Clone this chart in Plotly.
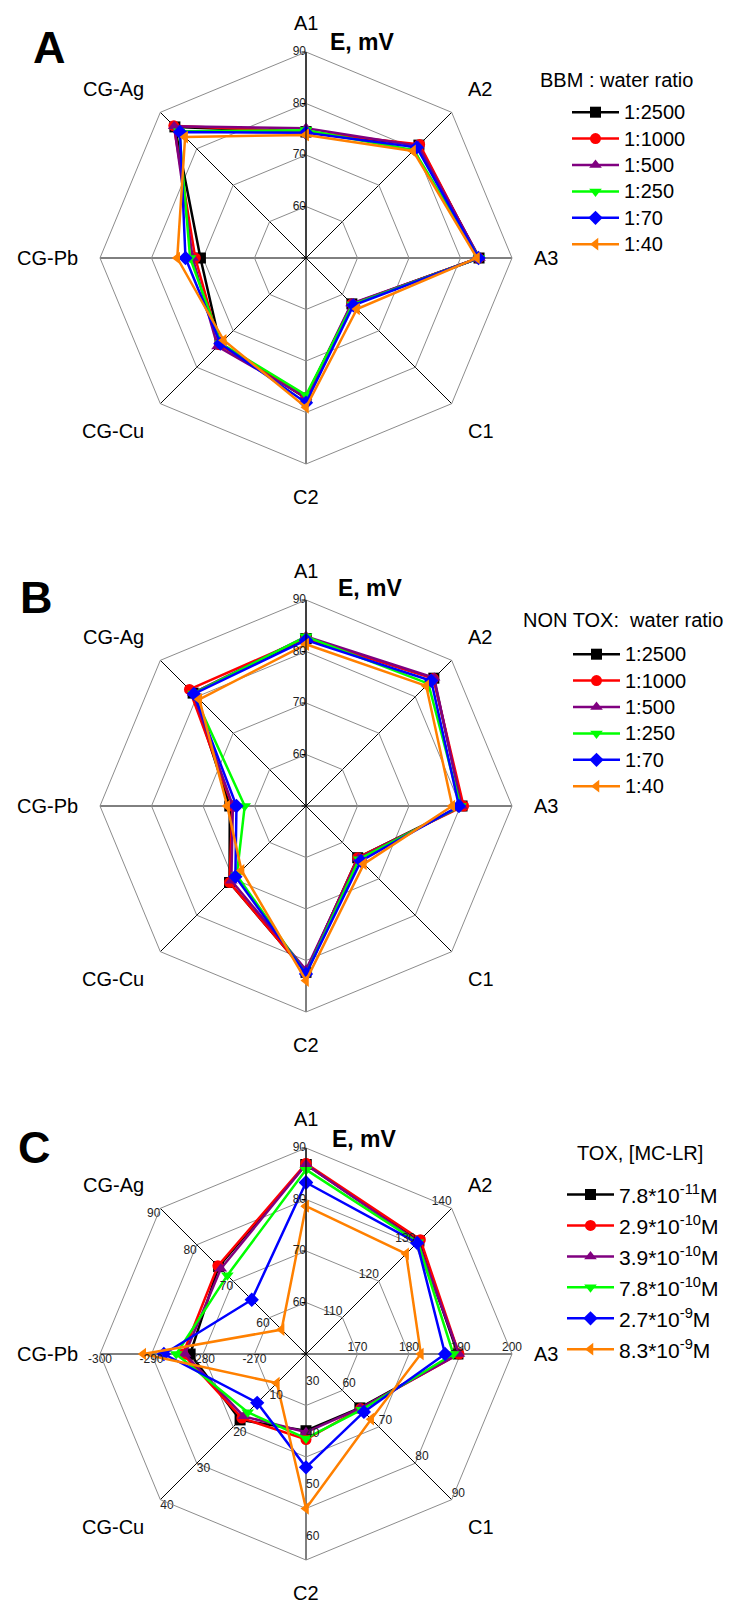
import math
import plotly.graph_objects as go

FONT = "Liberation Sans, Arial, sans-serif"

# ---------------- data ----------------
axes = ["A1", "A2", "A3", "C1", "C2", "CG-Cu", "CG-Pb", "CG-Ag"]

colors = ["#000000", "#ff0000", "#800080", "#00ff00", "#0000ff", "#ff8000"]
symbols = ["square", "circle", "triangle-up", "triangle-down", "diamond", "triangle-left"]

# Panel A : BBM : water ratio   (order of axes as above)
names_a = ["1:2500", "1:1000", "1:500", "1:250", "1:70", "1:40"]
a_2500 = [74.5, 81.0, 83.6, 62.6, 77.2, 73.6, 70.5, 86.0]
a_1000 = [74.5, 81.2, 83.5, 62.6, 77.1, 73.8, 71.5, 86.3]
a_500 = [75.2, 80.8, 83.7, 62.5, 77.0, 74.3, 72.0, 86.2]
a_250 = [74.8, 79.6, 83.6, 62.8, 76.6, 73.4, 72.5, 84.8]
a_70 = [74.3, 80.4, 83.5, 63.0, 78.1, 73.5, 73.4, 84.6]
a_40 = [73.9, 79.4, 83.2, 64.0, 79.0, 72.6, 75.0, 83.2]

# Panel B : NON TOX : water ratio
names_b = ["1:2500", "1:1000", "1:500", "1:250", "1:70", "1:40"]
b_2500 = [82.5, 85.1, 80.3, 64.2, 82.3, 71.0, 64.8, 81.0]
b_1000 = [82.6, 85.0, 80.6, 64.2, 82.3, 71.0, 64.3, 82.0]
b_500 = [82.9, 85.2, 80.2, 64.4, 81.8, 70.5, 64.2, 81.0]
b_250 = [82.9, 83.6, 80.0, 64.6, 82.6, 69.0, 61.9, 80.9]
b_70 = [82.2, 84.4, 79.7, 65.1, 82.6, 69.4, 63.5, 80.8]
b_40 = [81.4, 83.0, 78.4, 65.9, 83.9, 67.7, 65.3, 79.3]

# Panel C : TOX, [MC-LR]  (each axis has its own scale)
names_c = ["7.8*10<sup>-11</sup>M", "2.9*10<sup>-10</sup>M", "3.9*10<sup>-10</sup>M",
           "7.8*10<sup>-10</sup>M", "2.7*10<sup>-9</sup>M", "8.3*10<sup>-9</sup>M"]
c_78e11 = [86.8, 131.0, 189.5, 64.8, 34.9, 18.1, -282.5, 74.0]
c_29e10 = [87.0, 131.4, 189.7, 65.0, 36.6, 17.6, -283.9, 74.2]
c_39e10 = [86.8, 130.8, 189.7, 64.9, 35.2, 17.1, -283.5, 73.4]
c_78e10 = [85.8, 130.7, 188.6, 65.3, 36.4, 16.0, -285.2, 71.6]
c_27e9 = [83.3, 130.5, 187.0, 65.9, 42.0, 13.4, -287.6, 64.9]
c_83e9 = [78.7, 127.5, 182.3, 67.9, 50.0, 8.0, -291.6, 56.7]

# per-axis scale of panel C (value at centre, value at outer ring)
c_lo = [50, 100, 160, 50, 20, 0, -260, 50]
c_hi = [90, 140, 200, 90, 60, 40, -300, 90]
ab_ticks = [50, 60, 70, 80, 90]

series_a = [a_2500, a_1000, a_500, a_250, a_70, a_40]
series_b = [b_2500, b_1000, b_500, b_250, b_70, b_40]
series_c = [c_78e11, c_29e10, c_39e10, c_78e10, c_27e9, c_83e9]

fig = go.Figure()


def close(lst):
    return list(lst) + [lst[0]]


def add_series(polar, legend, names, series, label_px):
    for i, (nm, vals) in enumerate(zip(names, series)):
        fig.add_trace(go.Scatterpolar(
            r=close(vals), theta=close(axes), mode="lines+markers",
            name="<span style='font-size:%gpx'>%s</span>" % (label_px, nm),
            subplot=polar, legend=legend,
            line=dict(color=colors[i], width=2.5),
            marker=dict(color=colors[i], symbol=symbols[i], size=11),
        ))


add_series("polar", "legend", names_a, series_a, 20)
add_series("polar2", "legend2", names_b, series_b, 20)

# panel C: normalise each axis to 0..1
norm_c = []
for vals in series_c:
    norm_c.append([(v - lo) / (hi - lo) for v, lo, hi in zip(vals, c_lo, c_hi)])
add_series("polar3", "legend3", names_c, norm_c, 21)


def tick_text(polar, ax, rr, labels, pos):
    fig.add_trace(go.Scatterpolar(
        r=rr, theta=[ax] * len(rr), mode="text", text=labels, textposition=pos,
        textfont=dict(size=12, color="#222222", family=FONT),
        cliponaxis=False, showlegend=False, hoverinfo="skip", subplot=polar,
    ))


# A1 scale labels of panels A and B
for polar in ["polar", "polar2"]:
    tick_text(polar, "A1", ab_ticks, [str(v) for v in ab_ticks], "middle left")

# per-axis tick labels of panel C
label_pos = {"A1": "middle left", "A2": "top left", "A3": "top center", "C1": "top right",
             "C2": "top right", "CG-Cu": "bottom right", "CG-Pb": "bottom center",
             "CG-Ag": "bottom left"}
fracs = [0, 0.25, 0.5, 0.75, 1.0]
for k, ax in enumerate(axes):
    lo, hi = c_lo[k], c_hi[k]
    vals = [lo + f * (hi - lo) for f in fracs]
    rr = list(fracs)
    if ax == "C2":
        rr = [f - 0.083 for f in fracs][1:]
        vals = vals[1:]
    tick_text("polar3", ax, rr, [str(int(v)) for v in vals], label_pos[ax])

W, H = 733, 1606
R = 206
centers = [(306, 258), (306, 806), (306, 1354)]


def dom(cx, cy):
    return dict(x=[(cx - R) / W, (cx + R) / W], y=[(H - cy - R) / H, (H - cy + R) / H])


def polar_layout(cx, cy, rrange, tickvals):
    ra = dict(range=rrange, tickvals=tickvals, angle=90, side="counterclockwise",
              showline=True, linecolor="#000000", linewidth=1, showticklabels=False,
              ticks="outside", ticklen=4, tickcolor="#000000",
              gridcolor="#8c8c8c", gridwidth=1)
    return dict(
        domain=dom(cx, cy), gridshape="linear", bgcolor="white",
        radialaxis=ra,
        angularaxis=dict(type="category", categoryarray=axes, direction="clockwise",
                         rotation=90, gridcolor="#000000", gridwidth=1,
                         linecolor="#8c8c8c", linewidth=1, showline=True,
                         ticks="", showticklabels=False),
    )


def legend_cfg(x, ytop, size):
    return dict(x=x / W, y=1 - ytop / H, xanchor="left", yanchor="top",
                bgcolor="rgba(0,0,0,0)", itemwidth=47, traceorder="normal",
                font=dict(size=size, color="#000000", family=FONT))


fig.update_layout(
    width=W, height=H, margin=dict(l=0, r=0, t=0, b=0),
    paper_bgcolor="white", font=dict(family=FONT, color="#000000"),
    polar=polar_layout(*centers[0], [50, 90], ab_ticks),
    polar2=polar_layout(*centers[1], [50, 90], ab_ticks),
    polar3=polar_layout(*centers[2], [0, 1], fracs),
    legend=legend_cfg(567, 94, 18),
    legend2=legend_cfg(568, 636, 18),
    legend3=legend_cfg(562, 1174, 21.5),
)

# category labels round each chart, just outside the outer ring
GAP = 21
for cx, cy in centers:
    for k, ax in enumerate(axes):
        ang = math.radians(90 - 45 * k)
        dx, dy = math.cos(ang), -math.sin(ang)
        px, py = cx + (R + GAP) * dx, cy + (R + GAP) * dy
        if dy < -0.1:
            py += 4
        xa = "center" if abs(dx) < 0.1 else ("left" if dx > 0 else "right")
        ya = "middle" if abs(dy) < 0.1 else ("top" if dy > 0 else "bottom")
        fig.add_annotation(text=ax, x=px / W, y=1 - py / H, xref="paper", yref="paper",
                           showarrow=False, xanchor=xa, yanchor=ya, borderpad=0,
                           font=dict(size=20, color="#000000", family=FONT))

annots = [
    ("<b>A</b>", 49, 47, 45), ("<b>B</b>", 36, 598, 45), ("<b>C</b>", 34, 1147, 45),
    ("<b>E, mV</b>", 362, 42, 23), ("<b>E, mV</b>", 370, 588, 23), ("<b>E, mV</b>", 364, 1139, 23),
    ("BBM : water ratio", 616, 80, 20), ("NON TOX:\u00a0 water ratio", 623, 620, 20),
    ("TOX, [MC-LR]", 640, 1153, 20),
]
for txt, x, y, s in annots:
    fig.add_annotation(text=txt, x=x / W, y=1 - y / H, xref="paper", yref="paper",
                       showarrow=False, xanchor="center", yanchor="middle",
                       font=dict(size=s, color="#000000", family=FONT))

fig.write_html("out.html", config={"displayModeBar": False},
               post_script="document.body.style.margin='0';document.body.style.overflow='hidden';")
